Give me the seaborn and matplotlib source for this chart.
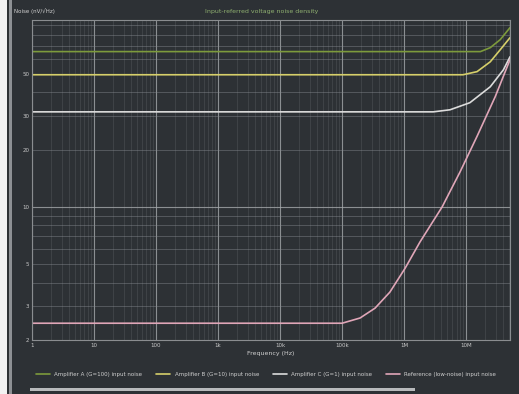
import numpy as np
import pandas as pd
import matplotlib
matplotlib.use("Agg")
import matplotlib.pyplot as plt
import seaborn as sns
from matplotlib.patches import Rectangle
from matplotlib.ticker import LogLocator, FuncFormatter, NullFormatter

# ---- data ----
series_names = [
    "Amplifier A (G=100) input noise",
    "Amplifier B (G=10) input noise",
    "Amplifier C (G=1) input noise",
    "Reference (low-noise) input noise",
]
green_x = [1, 1.7e7, 2.45e7, 3.55e7, 5.1e7]
green_y = [65.5, 65.5, 68.7, 75.7, 87.5]
yellow_x = [1, 8.9e6, 1.5e7, 2.45e7, 3.55e7, 5.1e7]
yellow_y = [49.5, 49.5, 51.4, 57.9, 67.0, 77.5]
white_x = [1, 2.95e6, 5.5e6, 1.15e7, 2.45e7, 4.0e7, 5.1e7]
white_y = [31.6, 31.6, 32.4, 35.3, 42.8, 52.6, 61.5]
pink_x = [1, 1.0e5, 1.95e5, 3.4e5, 5.9e5, 1.04e6, 1.8e6, 4.1e6, 8.0e6, 1.5e7, 2.95e7, 5.1e7]
pink_y = [2.45, 2.45, 2.61, 2.94, 3.57, 4.77, 6.54, 10.0, 15.3, 23.5, 38.0, 59.4]

xs = [green_x, yellow_x, white_x, pink_x]
ys = [green_y, yellow_y, white_y, pink_y]
colors = ["#7d9a3c", "#d6cf6a", "#dcdcdc", "#e0a6b8"]

frames = []
for name, x, y in zip(series_names, xs, ys):
    frames.append(pd.DataFrame({"Frequency": x, "Noise": y, "series": name}))
df = pd.concat(frames, ignore_index=True)

# ---- figure ----
bg = "#2d3135"
sns.set_theme(style="dark")
plt.rcParams["font.family"] = ["DejaVu Sans"]
fig = plt.figure(figsize=(5.19, 3.94), dpi=100, facecolor=bg)
ax = fig.add_axes([32 / 519, 54 / 394, 478 / 519, 320 / 394])
ax.set_facecolor(bg)

sns.lineplot(data=df, x="Frequency", y="Noise", hue="series",
             palette=dict(zip(series_names, colors)), estimator=None,
             sort=False, linewidth=1.2, ax=ax, legend=True)

ax.set_xscale("log")
ax.set_yscale("log")
ax.set_xlim(1, 5.1e7)
ax.set_ylim(2.0, 96)

ax.xaxis.set_major_locator(LogLocator(base=10, numticks=12))
ax.xaxis.set_minor_locator(LogLocator(base=10, subs=np.arange(2, 10), numticks=12))
ax.yaxis.set_major_locator(LogLocator(base=10, numticks=12))
ax.yaxis.set_minor_locator(LogLocator(base=10, subs=np.arange(2, 10), numticks=12))

def xfmt(v, pos):
    e = int(round(np.log10(v)))
    names = {0: "1", 1: "10", 2: "100", 3: "1k", 4: "10k", 5: "100k", 6: "1M", 7: "10M"}
    return names.get(e, "")
ax.xaxis.set_major_formatter(FuncFormatter(xfmt))
ax.xaxis.set_minor_formatter(NullFormatter())
ax.yaxis.set_major_formatter(FuncFormatter(lambda v, p: f"{v:g}"))
ax.yaxis.set_minor_formatter(FuncFormatter(
    lambda v, p: f"{v:g}" if round(v / 10 ** np.floor(np.log10(v) + 1e-9)) in (2, 3, 5) else ""))

ax.grid(True, which="major", color="#a4a7aa", linewidth=0.8, alpha=0.8)
ax.xaxis.grid(True, which="minor", color="#80848a", linewidth=0.5, alpha=0.3)
ax.yaxis.grid(True, which="minor", color="#8a8e94", linewidth=0.6, alpha=0.5)
ax.tick_params(axis="both", which="both", labelsize=4, colors="#c8c8c8", length=0, pad=2)
for s in ax.spines.values():
    s.set_color("#8a8d90")
    s.set_linewidth(0.8)

ax.set_xlabel("Frequency (Hz)", fontsize=4.5, color="#d0d0d0", labelpad=2)
ax.set_ylabel("")
fig.text(14 / 519, 1 - 11 / 394, "Noise (nV/\u221aHz)", fontsize=4, color="#d0d0d0",
         ha="left", va="center")
fig.text(262 / 519, 1 - 12 / 394, "Input-referred voltage noise density", fontsize=4.5,
         color="#8fb070", ha="center", va="center")

leg = ax.legend(loc="upper center", bbox_to_anchor=(0.49, -0.085), ncol=4, frameon=False,
                fontsize=4, labelcolor="#d0d0d0", handlelength=2.5, columnspacing=2.5)

# UI decorations
fig.patches.append(Rectangle((0, 0), 7 / 519, 1, transform=fig.transFigure,
                             facecolor="#f2f2f2", edgecolor="none"))
fig.patches.append(Rectangle((9 / 519, 0), 3 / 519, 1, transform=fig.transFigure,
                             facecolor="#8d9094", edgecolor="none"))
fig.patches.append(Rectangle((30 / 519, 3 / 394), 385 / 519, 3 / 394, transform=fig.transFigure,
                             facecolor="#b8babc", edgecolor="none"))

fig.savefig("out.png", dpi=100, facecolor=bg)
